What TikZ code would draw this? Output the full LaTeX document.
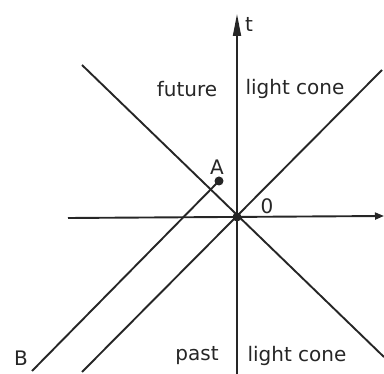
\documentclass[tikz,border=0pt]{standalone}
\usepackage{fontspec}
\setmainfont{DejaVu Sans}
\usetikzlibrary{arrows.meta}
\begin{document}
\begin{tikzpicture}[x=1pt,y=-1pt,
  ln/.style={line width=1.9pt,draw=black!85},
  lbl/.style={font=\fontsize{20}{20}\selectfont,text=black!85,inner sep=0pt},
  dotn/.style={circle,fill=black!85,minimum size=9pt,inner sep=0pt}]
\useasboundingbox (0,0) rectangle (384,374);
% coordinates
\coordinate (ttop) at (237,14);
\coordinate (tbot) at (237,374);
\coordinate (xl) at (68,218);
\coordinate (xr) at (384,216);
\coordinate (ul) at (82,65);
\coordinate (lr) at (384,357);
\coordinate (ll) at (82,372);
\coordinate (ur) at (382,70);
\coordinate (bend) at (32,371);
% axes
\draw[ln,-{Triangle[length=22pt,width=8pt]}] (tbot) -- (ttop);
\draw[ln,-{Triangle[length=9pt,width=7pt]}] (xl) -- (xr);
% light cone
\draw[ln] (ul) -- (lr);
\draw[ln] (ll) -- (ur);
% dots
\node[dotn] (O) at (237,217) {};
\node[dotn] (A) at (219,181) {};
\draw[ln] (bend) -- (A.center);
% labels
\node[lbl] (t) at (249,24) {t};
\node[lbl] (fut) at (187,89) {future};
\node[lbl] (lc1) at (295,89) {light cone};
\node[lbl] (Al) at (217,167) {A};
\node[lbl] (Ol) at (267,206) {0};
\node[lbl] (Bl) at (21,358) {B};
\node[lbl] (past) at (197,356) {past};
\node[lbl] (lc2) at (297,356) {light cone};
\end{tikzpicture}
\end{document}
